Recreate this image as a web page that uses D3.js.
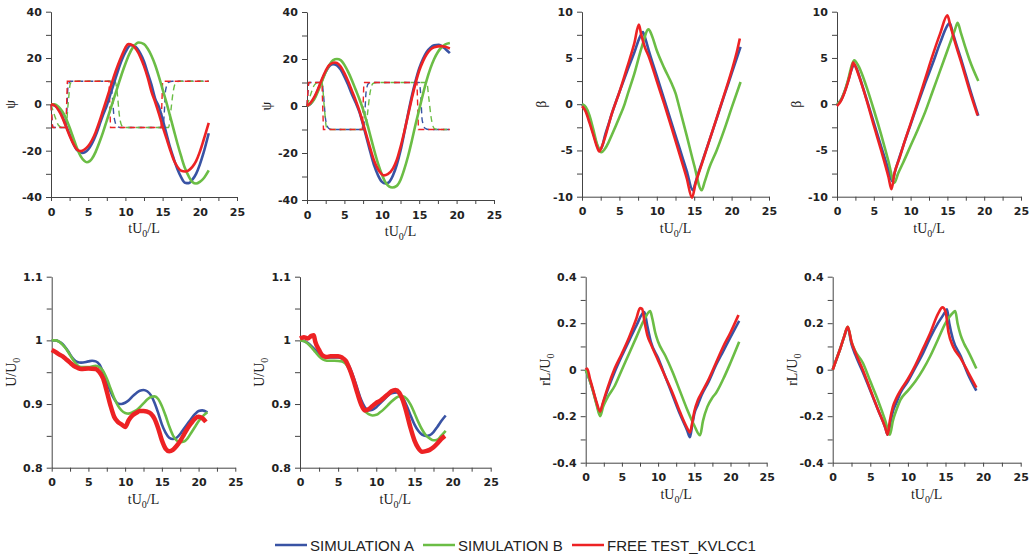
<html>
<head>
<meta charset='UTF-8'>
<script src="https://d3js.org/d3.v7.min.js"></script>
<style>
  body { margin: 0; background: #ffffff; }
</style>
</head>
<body>
<svg id="chart" width="1034" height="556"></svg>
<script>
// series names for the legend
const seriesNames = ['SIMULATION A', 'SIMULATION B', 'FREE TEST_KVLCC1'];

// ---------- heading psi, zigzag 1 ----------
const psiZ1SimA = [[0,0],[0.5,-0.5],[1,-2],[1.5,-5],[2,-9],[2.5,-13],[3,-17],[3.5,-19.8],[4.2,-21],[5,-19.5],[5.5,-17],[6,-13.5],[6.5,-9],[7,-4.5],[7.5,-0.5],[8,4.5],[8.5,9.5],[9,14.5],[9.5,19],[10,22.5],[10.7,25.5],[11.3,25],[12,22],[12.5,18.5],[13,13.5],[13.5,8.5],[14,2.5],[14.5,-1],[15,-6.5],[15.5,-12.5],[16,-18.5],[16.5,-23.5],[17,-28],[17.5,-31.5],[18,-33.8],[18.5,-34],[19,-32.5],[19.5,-30],[20,-26],[20.5,-21],[21.2,-12.5]];
const psiZ1SimB = [[0,0],[0.5,0],[1,-1],[1.5,-3],[2,-6],[2.5,-10],[3,-14.5],[3.5,-19],[4,-22.5],[4.5,-24.5],[4.8,-25],[5.2,-24.5],[5.5,-23.5],[6,-20.5],[6.5,-16.5],[7,-12],[7.5,-7],[8,-2],[8.5,3],[9,8],[9.5,13],[10,17.5],[10.5,21.5],[11,24.5],[11.8,26.7],[12.5,26],[13,24],[13.5,21],[14,17],[14.5,12],[15,6.5],[15.5,1],[16,-5],[16.5,-11],[17,-17],[17.5,-22.5],[18,-27.5],[18.5,-31],[19,-33.5],[19.5,-34.2],[20,-33.5],[20.5,-32],[21.2,-28.5]];
const psiZ1Test = [[0,0],[0.5,-0.5],[1,-2.5],[1.5,-5.5],[2,-9.5],[2.5,-13.5],[3,-17],[3.5,-19.5],[4,-20.2],[4.5,-19.5],[5,-18],[5.5,-15.5],[6,-12],[6.5,-7.5],[7,-2.5],[7.5,2.5],[8,7.5],[8.5,12.5],[9,17],[9.5,21],[10,24.5],[10.4,26],[11,25.5],[11.5,23.5],[12,20.5],[12.5,16.5],[13,11.5],[13.5,5.5],[14,1],[14.5,-4],[15,-9.5],[15.5,-14.5],[16,-19.5],[16.5,-24],[17,-27],[17.5,-28.7],[18,-29],[18.5,-28.5],[19,-27],[19.5,-24.5],[20,-20.5],[20.5,-15.5],[21.2,-8]];
// rudder angle, zigzag 1 (dashed)
const rudZ1SimA = [[0,0],[0.3,-10],[2,-10],[2.3,8],[2.6,10],[8,10],[8.2,5],[8.5,-6],[8.9,-9.5],[9.4,-10],[15,-10],[15.2,-5],[15.4,6],[15.8,9.5],[16.3,10],[21.2,10]];
const rudZ1SimB = [[0,0],[0.5,-5],[1,-9],[1.5,-10],[2,-10],[2.3,0],[2.6,9],[3,10],[8.6,10],[8.9,5],[9.2,-5],[9.6,-9.5],[10.2,-10],[15.8,-10],[16.1,-3],[16.4,5],[16.8,9.5],[17.3,10],[21.2,10]];
const rudZ1Test = [[0,0],[0.2,-10],[2,-10],[2.2,10],[7.8,10],[8,-10],[14.8,-10],[15,10],[21.2,10]];

// ---------- heading psi, zigzag 2 ----------
const psiZ2SimA = [[0,0],[0.5,1],[1,3.5],[1.5,7],[2,11],[2.5,14.5],[3,17],[3.5,17.8],[4,17.3],[4.5,15.5],[5,12.5],[5.5,9],[6,5],[6.5,1.5],[7,-2.5],[7.5,-8],[8,-14],[8.5,-20],[9,-25.5],[9.5,-29.5],[10,-32.2],[10.5,-33],[11,-32.3],[11.5,-29.5],[12,-25],[12.5,-19],[13,-11.5],[13.5,-3.5],[14,4],[14.5,10.5],[15,16],[15.5,20],[16,23],[16.5,24.8],[17,25.8],[17.6,26],[18,25.5],[18.5,24.3],[19.1,22.5]];
const psiZ2SimB = [[0,0],[0.5,1],[1,3],[1.5,6.5],[2,10.5],[2.5,14.5],[3,17.5],[3.5,19.5],[4,20],[4.5,19.5],[5,17.5],[5.5,14.5],[6,11],[6.5,7],[7,3],[7.5,-1.5],[8,-7],[8.5,-13],[9,-19],[9.5,-24.5],[10,-29],[10.5,-32.5],[11,-34.3],[11.4,-34.7],[12,-34],[12.5,-31.5],[13,-27],[13.5,-21.5],[14,-15],[14.5,-8],[15,-1.5],[15.5,5],[16,11],[16.5,16],[17,20],[17.5,23],[18,25],[18.5,26.2],[19.1,26.8]];
const psiZ2Test = [[0,0],[0.5,1.5],[1,4],[1.5,7.5],[2,11.5],[2.5,15],[3,17.5],[3.7,18.5],[4,18.3],[4.5,16.8],[5,14],[5.5,10.5],[6,6.5],[6.5,2.5],[7,-2],[7.5,-7.5],[8,-13],[8.5,-18.5],[9,-23.5],[9.5,-27],[10,-29],[10.3,-29.5],[10.8,-29],[11.5,-26.5],[12,-23],[12.5,-17.5],[13,-11],[13.5,-4],[14,3],[14.5,9.5],[15,15],[15.5,19],[16,22],[16.5,24],[17,25],[18,25.5],[18.5,25.2],[19.1,24.5]];
// rudder angle, zigzag 2 (dashed)
const rudZ2SimA = [[0,0],[0.3,10],[2,10],[2.2,5],[2.5,-6],[2.9,-9.5],[3.4,-10],[7.5,-10],[7.7,-5],[7.9,6],[8.2,9.5],[8.6,10],[15,10],[15.2,5],[15.4,-6],[15.8,-9.5],[16.3,-10],[19.1,-10]];
const rudZ2SimB = [[0,0],[0.5,5],[1,9],[1.5,10],[2,10],[2.3,0],[2.6,-9],[3,-10],[7.8,-10],[8.1,-3],[8.4,5],[8.8,9.5],[9.3,10],[16,10],[16.3,3],[16.6,-5],[17,-9.5],[17.5,-10],[19.1,-10]];
const rudZ2Test = [[0,0],[0.2,10],[2,10],[2.2,-10],[7.4,-10],[7.6,10],[14.7,10],[14.9,-10],[19.1,-10]];

// ---------- drift angle beta ----------
const betaZ1SimA = [[0,0],[0.5,-0.6],[1,-1.8],[1.5,-3.1],[2,-4.4],[2.4,-4.9],[2.8,-4.3],[3,-3.6],[3.5,-2.3],[4,-1],[5,1.3],[6,3.5],[7,5.6],[7.7,7.2],[8.15,7.8],[8.5,7],[9,5.6],[10,3.05],[11,0.5],[12,-2.1],[13,-4.65],[14,-7.2],[14.8,-9.3],[15.2,-8.4],[15.5,-7.6],[16,-6.4],[17,-4],[18,-1.55],[19,0.9],[20,3.3],[21.2,6.2]];
const betaZ1SimB = [[0,0],[0.5,-0.3],[1,-1.2],[1.5,-2.7],[2,-4.3],[2.6,-5.2],[3,-4.9],[3.5,-4.2],[4,-3.3],[5,-1.4],[5.7,0],[6,0.8],[7,3.3],[8,6.2],[8.9,8.1],[9.3,7.5],[10,5.8],[11,3.9],[12,2.2],[12.5,1.2],[13,-0.3],[14,-3.4],[15,-6.6],[16,-9.3],[16.4,-8.4],[17,-6.9],[18,-5],[19,-2.8],[20,-0.4],[21.2,2.4]];
const betaZ1Test = [[0,-0.2],[0.5,-0.8],[1,-2],[1.5,-3.3],[2,-4.6],[2.3,-5.1],[2.7,-4.5],[3,-3.8],[3.5,-2.4],[4,-1],[5,1.3],[6,3.9],[7,6.6],[7.6,8.6],[7.9,7.6],[8.3,6.4],[9,5],[10,2.5],[11,0],[12,-2.6],[13,-5.3],[14,-8],[14.7,-10.1],[15.2,-8.5],[16,-6.5],[17,-4],[18,-1.5],[19,1],[20,3.6],[20.8,6],[21.1,7.1]];
const betaZ2SimA = [[0,0],[0.5,0.4],[1,1.3],[1.5,2.5],[2,3.8],[2.3,4.3],[2.7,3.8],[3,3.1],[4,0.6],[5,-2],[6,-4.6],[7,-7.1],[7.5,-8.3],[7.9,-7.2],[8.5,-5.7],[9,-4.5],[10,-2.2],[11,0.1],[12,2.3],[13,4.4],[14,6.6],[15,8.5],[15.3,8.8],[15.7,7.8],[16,7],[17,4.5],[18,1.8],[19.2,-1.25]];
const betaZ2SimB = [[0,0],[0.5,0.4],[1,1.3],[1.5,2.6],[2,4.2],[2.35,4.75],[2.8,4.3],[3,4],[4,1.9],[5,-0.6],[6,-3.3],[7,-6.2],[7.8,-8.5],[8.3,-7.5],[9,-6.3],[10,-4.5],[11,-2.7],[12,-0.8],[13,1.4],[14,3.6],[15,5.8],[16,8],[16.4,8.8],[16.8,7.8],[17.5,6],[18,4.8],[19.2,2.5]];
const betaZ2Test = [[0,-0.2],[0.5,0.3],[1,1.2],[1.5,2.4],[2,3.9],[2.2,4.5],[2.6,3.9],[3,3],[4,0.5],[5,-2.3],[6,-5],[7,-7.9],[7.4,-9.2],[7.8,-7.5],[8.5,-5.8],[9,-4.5],[10,-2.1],[11,0.3],[12,2.8],[13,5.3],[14,7.6],[15,9.6],[15.4,8.5],[16,6.8],[17,4.2],[18,1.5],[19.1,-1.2]];

// ---------- speed ratio U/U0 ----------
const spdZ1SimA = [[0,1],[0.5,1],[1,0.998],[1.5,0.994],[2,0.987],[2.5,0.978],[3,0.97],[3.5,0.966],[4,0.965],[5,0.967],[5.5,0.968],[6,0.967],[6.5,0.962],[7,0.95],[7.5,0.935],[8,0.92],[8.5,0.908],[9,0.901],[9.5,0.9],[10,0.902],[10.5,0.906],[11,0.912],[11.5,0.917],[12,0.921],[12.5,0.922],[13,0.92],[13.5,0.914],[14,0.902],[14.5,0.886],[15,0.868],[15.5,0.855],[16,0.847],[16.5,0.845],[17,0.847],[17.5,0.853],[18,0.861],[18.5,0.869],[19,0.877],[19.5,0.884],[20,0.889],[20.5,0.89],[21.2,0.887]];
const spdZ1SimB = [[0,1],[0.5,1],[1,0.998],[1.5,0.993],[2,0.986],[2.5,0.977],[3,0.968],[3.5,0.961],[4,0.958],[5,0.958],[6,0.96],[6.5,0.958],[7,0.952],[7.5,0.94],[8,0.925],[8.5,0.91],[9,0.898],[9.5,0.89],[10,0.886],[10.5,0.885],[11,0.887],[11.5,0.89],[12,0.895],[12.5,0.901],[13,0.907],[13.5,0.911],[14,0.912],[14.5,0.908],[15,0.897],[15.5,0.882],[16,0.865],[16.5,0.851],[17,0.843],[17.5,0.84],[18,0.841],[18.5,0.846],[19,0.855],[19.5,0.864],[20,0.873],[20.5,0.88],[21.2,0.887]];
const spdZ1Test = [[0,0.985],[0.5,0.982],[1,0.978],[1.5,0.975],[2,0.97],[2.5,0.965],[3,0.96],[3.5,0.957],[4,0.955],[5,0.956],[6,0.955],[6.5,0.95],[7,0.94],[7.5,0.92],[8,0.898],[8.5,0.88],[9,0.872],[9.5,0.868],[10,0.864],[10.5,0.875],[11,0.882],[11.5,0.886],[12,0.889],[12.5,0.889],[13,0.888],[13.5,0.885],[14,0.877],[14.5,0.862],[15,0.843],[15.5,0.83],[16,0.826],[16.5,0.828],[17,0.834],[17.5,0.842],[18,0.852],[18.5,0.862],[19,0.87],[19.5,0.877],[20,0.88],[20.5,0.878],[21,0.872]];
const spdZ2SimA = [[0,1],[0.5,0.999],[1,0.996],[1.5,0.991],[2,0.985],[2.5,0.979],[3,0.975],[3.5,0.973],[4,0.973],[5,0.973],[5.5,0.972],[6,0.968],[6.5,0.958],[7,0.943],[7.5,0.925],[8,0.907],[8.5,0.895],[9,0.89],[9.5,0.891],[10,0.895],[10.5,0.901],[11,0.907],[11.5,0.913],[12,0.917],[12.7,0.918],[13,0.916],[13.5,0.909],[14,0.897],[14.5,0.882],[15,0.868],[15.5,0.858],[16,0.852],[16.5,0.85],[17,0.851],[17.5,0.856],[18,0.864],[18.5,0.873],[19.1,0.882]];
const spdZ2SimB = [[0,1],[0.5,0.999],[1,0.995],[1.5,0.989],[2,0.982],[2.5,0.975],[3,0.97],[3.5,0.968],[4.5,0.968],[5.5,0.967],[6,0.963],[6.5,0.953],[7,0.937],[7.5,0.918],[8,0.9],[8.5,0.889],[9,0.884],[9.5,0.882],[10,0.883],[10.5,0.887],[11,0.892],[11.5,0.898],[12,0.904],[12.5,0.909],[13,0.912],[13.5,0.912],[14,0.908],[14.5,0.899],[15,0.886],[15.5,0.872],[16,0.86],[16.5,0.851],[17,0.846],[17.5,0.843],[18,0.844],[18.5,0.85],[19.1,0.858]];
const spdZ2Test = [[0,1.003],[0.5,1.005],[1,1.003],[1.5,1.007],[1.8,1.008],[2,0.998],[2.5,0.985],[3,0.976],[3.5,0.974],[4,0.975],[5,0.975],[5.5,0.973],[6,0.968],[6.5,0.955],[7,0.938],[7.5,0.918],[8,0.9],[8.5,0.89],[9,0.892],[9.5,0.897],[10,0.902],[10.5,0.905],[11,0.91],[11.5,0.915],[12,0.92],[12.5,0.922],[13,0.918],[13.5,0.905],[14,0.885],[14.5,0.862],[15,0.843],[15.5,0.831],[16,0.825],[16.5,0.826],[17,0.828],[17.5,0.832],[18,0.838],[18.5,0.845],[19,0.85]];

// ---------- yaw rate rL/U0 ----------
const yawZ1SimA = [[0,0],[0.5,-0.04],[1,-0.09],[1.5,-0.145],[2,-0.19],[2.3,-0.155],[3,-0.09],[4,-0.01],[5,0.06],[6,0.125],[7,0.19],[8.1,0.248],[8.5,0.19],[9,0.12],[10,0.05],[11,-0.03],[12,-0.11],[13,-0.19],[14,-0.26],[14.4,-0.29],[14.7,-0.24],[15,-0.19],[15.5,-0.15],[16,-0.11],[17,-0.05],[18,0.02],[19,0.08],[20,0.14],[21.2,0.21]];
const yawZ1SimB = [[0,0],[0.5,-0.04],[1,-0.09],[1.5,-0.15],[2,-0.2],[2.4,-0.16],[3,-0.12],[4,-0.07],[5,0],[6,0.07],[7,0.14],[8,0.21],[8.9,0.252],[9.2,0.22],[9.6,0.16],[10,0.12],[11,0.06],[12,-0.01],[13,-0.09],[14,-0.17],[15,-0.24],[15.8,-0.282],[16.2,-0.22],[16.8,-0.16],[17.5,-0.12],[18,-0.1],[19,-0.04],[20,0.03],[21.2,0.12]];
const yawZ1Test = [[0,0],[0.2,0.005],[0.6,-0.04],[1,-0.085],[1.5,-0.14],[2,-0.18],[2.3,-0.15],[3,-0.08],[4,0.005],[5,0.07],[6,0.14],[7,0.22],[7.5,0.265],[7.8,0.262],[8.1,0.21],[8.5,0.15],[9,0.11],[10,0.04],[11,-0.03],[12,-0.1],[13,-0.18],[14,-0.25],[14.4,-0.27],[14.7,-0.23],[15,-0.18],[15.5,-0.13],[16,-0.1],[17,-0.04],[18,0.03],[19,0.1],[20,0.16],[21.1,0.235]];
const yawZ2SimA = [[0,0],[0.5,0.045],[1,0.09],[1.5,0.14],[2,0.18],[2.5,0.11],[3,0.065],[4,-0.01],[5,-0.09],[6,-0.17],[7,-0.25],[7.3,-0.28],[7.6,-0.24],[8,-0.18],[8.5,-0.14],[9,-0.1],[10,-0.05],[11,0.01],[12,0.07],[13,0.14],[14,0.2],[15,0.25],[15.2,0.26],[15.5,0.2],[16,0.13],[17,0.06],[18,-0.02],[19.1,-0.09]];
const yawZ2SimB = [[0,0],[0.5,0.045],[1,0.09],[1.5,0.14],[2,0.185],[2.5,0.12],[3,0.08],[4,0.03],[5,-0.05],[6,-0.13],[7,-0.22],[7.6,-0.28],[8,-0.22],[8.5,-0.17],[9,-0.13],[10,-0.09],[11,-0.05],[12,0],[13,0.06],[14,0.13],[15,0.2],[16,0.245],[16.3,0.252],[16.6,0.2],[17,0.15],[17.5,0.11],[18,0.08],[19.1,0.005]];
const yawZ2Test = [[0,0],[0.5,0.045],[1,0.09],[1.5,0.14],[2,0.185],[2.5,0.12],[3,0.075],[4,0],[5,-0.085],[6,-0.17],[7,-0.25],[7.3,-0.28],[7.6,-0.22],[8,-0.16],[8.5,-0.12],[9,-0.09],[10,-0.04],[11,0.02],[12,0.09],[13,0.16],[14,0.24],[14.6,0.268],[15,0.25],[15.4,0.16],[16,0.1],[17,0.05],[18,-0.01],[19.1,-0.077]];

// axis tick values
const tTicks = d3.range(0, 25.01, 2.5);
const psiTicks = [-40,-30,-20,-10,0,10,20,30,40];
const betaTicks = [-10,-7.5,-5,-2.5,0,2.5,5,7.5,10];
const spdTicks = [0.8,0.85,0.9,0.95,1,1.05,1.1];
const yawTicks = [-0.4,-0.3,-0.2,-0.1,0,0.1,0.2,0.3,0.4];

const colors = ['#3953a4', '#6bbd45', '#ed2224'];

// panel table: pixel box, y domain, label, curves
const panels = [
  {x0: 51, x1: 237, y0: 11.7, y1: 197, dom: [-40, 40], ticks: psiTicks, lab: v => v % 20 === 0 ? v : '', name: 'ψ', sub: '',
   lines: [psiZ1SimA, psiZ1SimB, psiZ1Test], dashed: [rudZ1SimA, rudZ1SimB, rudZ1Test]},
  {x0: 307, x1: 494, y0: 12, y1: 200, dom: [-40, 40], ticks: psiTicks, lab: v => v % 20 === 0 ? v : '', name: 'ψ', sub: '',
   lines: [psiZ2SimA, psiZ2SimB, psiZ2Test], dashed: [rudZ2SimA, rudZ2SimB, rudZ2Test]},
  {x0: 582, x1: 769, y0: 11.7, y1: 196.7, dom: [-10, 10], ticks: betaTicks, lab: v => v % 5 === 0 ? v : '', name: 'β', sub: '',
   lines: [betaZ1SimA, betaZ1SimB, betaZ1Test]},
  {x0: 837, x1: 1021, y0: 11.7, y1: 196.7, dom: [-10, 10], ticks: betaTicks, lab: v => v % 5 === 0 ? v : '', name: 'β', sub: '',
   lines: [betaZ2SimA, betaZ2SimB, betaZ2Test]},
  {x0: 51.7, x1: 235.3, y0: 276.7, y1: 467.7, dom: [0.8, 1.1], ticks: spdTicks, lab: v => [0.8,0.9,1,1.1].includes(v) ? v : '', name: 'U/U', sub: '0',
   lines: [spdZ1SimA, spdZ1SimB, spdZ1Test], noisy: true},
  {x0: 300, x1: 490.7, y0: 276.7, y1: 467.7, dom: [0.8, 1.1], ticks: spdTicks, lab: v => [0.8,0.9,1,1.1].includes(v) ? v : '', name: 'U/U', sub: '0',
   lines: [spdZ2SimA, spdZ2SimB, spdZ2Test], noisy: true},
  {x0: 585.7, x1: 766.7, y0: 276.7, y1: 462.7, dom: [-0.4, 0.4], ticks: yawTicks, lab: v => [-0.4,-0.2,0,0.2,0.4].includes(v) ? v : '', name: 'rL/U', sub: '0',
   lines: [yawZ1SimA, yawZ1SimB, yawZ1Test]},
  {x0: 832.7, x1: 1020.7, y0: 276.7, y1: 462.7, dom: [-0.4, 0.4], ticks: yawTicks, lab: v => [-0.4,-0.2,0,0.2,0.4].includes(v) ? v : '', name: 'rL/U', sub: '0',
   lines: [yawZ2SimA, yawZ2SimB, yawZ2Test]}
];

const svg = d3.select('svg#chart');
const tickFont = '"DejaVu Sans", Verdana, sans-serif';
const serif = '"Liberation Serif", "Times New Roman", serif';

panels.forEach(p => {
  let x = d3.scaleLinear().domain([0, 25]).range([p.x0, p.x1]);
  let y = d3.scaleLinear().domain(p.dom).range([p.y1, p.y0]);
  let g = svg.append('g');

  //x axis
  let xa = g.append('g')
    .attr('transform', `translate(0,${p.y1})`)
    .call(d3.axisBottom(x).tickValues(tTicks).tickSize(4).tickSizeOuter(0)
      .tickFormat(d => d % 5 === 0 ? d : ''));
  //y axis
  let ya = g.append('g')
    .attr('transform', `translate(${p.x0},0)`)
    .call(d3.axisLeft(y).tickValues(p.ticks).tickSize(5).tickSizeOuter(0).tickFormat(p.lab));

  [xa, ya].forEach(a => {
    a.selectAll('path, line').attr('stroke', '#444').attr('stroke-width', 1);
    a.selectAll('text').attr('font-family', tickFont).attr('font-weight', 'bold')
      .attr('font-size', 11).attr('fill', '#222');
  });
  xa.selectAll('text').attr('dy', '1.05em');
  ya.selectAll('text').attr('dx', '-0.1em');

  //x title
  let xt = g.append('text')
    .attr('x', (p.x0 + p.x1) / 2)
    .attr('y', p.y1 + 36)
    .attr('text-anchor', 'middle')
    .attr('font-family', serif).attr('font-size', 14).attr('fill', '#222');
  xt.append('tspan').text('tU');
  xt.append('tspan').text('0').attr('font-size', 10).attr('dy', 4);
  xt.append('tspan').text('/L').attr('dy', -4);

  //y title (rotated)
  let cy = (p.y0 + p.y1) / 2;
  let yt = g.append('text')
    .attr('transform', `translate(${p.x0 - 36},${cy}) rotate(-90)`)
    .attr('text-anchor', 'middle')
    .attr('font-family', serif).attr('font-size', 14).attr('fill', '#222');
  yt.append('tspan').text(p.name);
  if (p.sub) yt.append('tspan').text(p.sub).attr('font-size', 10).attr('dy', 4);

  //dashed rudder lines
  if (p.dashed) {
    p.dashed.forEach((d, i) => {
      let ln = d3.line().x(v => x(v[0])).y(v => y(v[1]))
        .curve(i === 2 ? d3.curveLinear : d3.curveMonotoneX);
      g.append('path').datum(d)
        .attr('d', ln)
        .attr('fill', 'none')
        .attr('stroke', colors[i])
        .attr('stroke-width', 1.4)
        .attr('stroke-dasharray', '6,4');
    });
  }

  //main curves
  let line = d3.line().x(v => x(v[0])).y(v => y(v[1])).curve(d3.curveMonotoneX);
  p.lines.forEach((d, i) => {
    g.append('path').datum(d)
      .attr('d', line)
      .attr('fill', 'none')
      .attr('stroke', colors[i])
      .attr('stroke-width', (i === 2 && p.noisy) ? 4.5 : 2.6)
      .attr('stroke-linejoin', 'round');
  });
});

//legend
const legX = [275, 423, 572];
seriesNames.forEach((s, i) => {
  svg.append('line')
    .attr('x1', legX[i]).attr('x2', legX[i] + 32)
    .attr('y1', 545).attr('y2', 545)
    .attr('stroke', colors[i]).attr('stroke-width', 2.5);
  svg.append('text')
    .attr('x', legX[i] + 35).attr('y', 550.5)
    .attr('font-family', '"Liberation Sans", Arial, sans-serif')
    .attr('font-size', 15).attr('fill', '#222')
    .text(s);
});
</script>
</body>
</html>
